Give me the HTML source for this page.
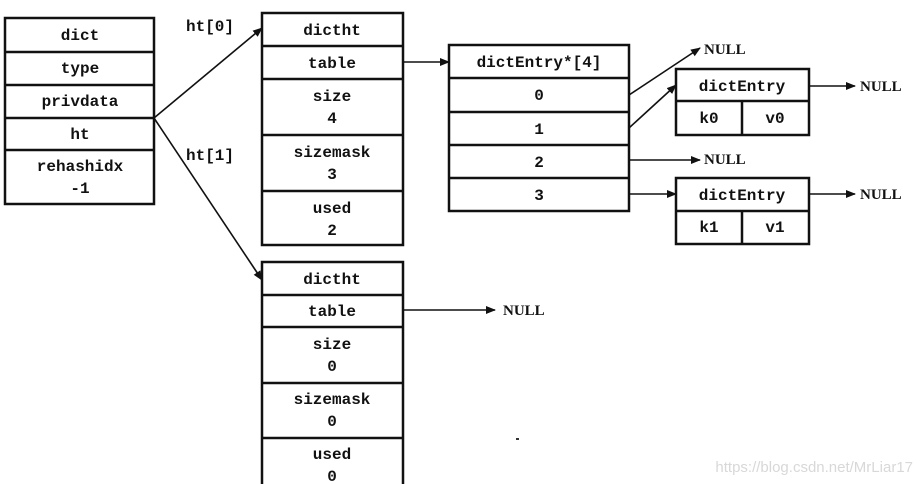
<!DOCTYPE html>
<html><head><meta charset="utf-8"><style>
html,body{margin:0;padding:0;background:#fff;}
svg{display:block;}
text{font-family:"Liberation Mono",monospace;font-size:16px;font-weight:bold;fill:#111;text-anchor:middle;}
.n{font-family:"Liberation Serif",serif;font-size:15px;text-anchor:start;}
.l{text-anchor:start;}
</style></head><body>
<svg width="922" height="484" viewBox="0 0 922 484" xmlns="http://www.w3.org/2000/svg">
<defs><marker id="a" markerWidth="10" markerHeight="8" refX="9" refY="4" orient="auto" markerUnits="userSpaceOnUse"><path d="M0,0 L10,4 L0,8 z" fill="#111"/></marker></defs>
<g fill="none" stroke="#111" stroke-width="2.5">
<rect x="5" y="18" width="149" height="186"/>
<path d="M5 52H154M5 85H154M5 118H154M5 150H154"/>
<rect x="262" y="13" width="141" height="232"/>
<path d="M262 46H403M262 79H403M262 135H403M262 191H403"/>
<path d="M262 490V262H403V490"/>
<path d="M262 295H403M262 327H403M262 383H403M262 438H403"/>
<rect x="449" y="45" width="180" height="166"/>
<path d="M449 78H629M449 112H629M449 145H629M449 178H629"/>
<rect x="676" y="69" width="133" height="66"/>
<path d="M676 101H809M742 101V135"/>
<rect x="676" y="178" width="133" height="66"/>
<path d="M676 211H809M742 211V244"/>
</g>
<g stroke="#111" stroke-width="1.6" fill="none" marker-end="url(#a)">
<line x1="154" y1="118" x2="262" y2="28"/>
<line x1="154" y1="118" x2="262" y2="280"/>
<line x1="403" y1="62" x2="449" y2="62"/>
<line x1="629" y1="95" x2="700" y2="48"/>
<line x1="629" y1="128" x2="676" y2="85"/>
<line x1="629" y1="160" x2="700" y2="160"/>
<line x1="629" y1="194" x2="676" y2="194"/>
<line x1="809" y1="86" x2="855" y2="86"/>
<line x1="809" y1="194" x2="855" y2="194"/>
<line x1="403" y1="310" x2="495" y2="310"/>
</g>
<text x="80" y="40">dict</text>
<text x="80" y="73">type</text>
<text x="80" y="106">privdata</text>
<text x="80" y="139">ht</text>
<text x="80" y="171">rehashidx</text>
<text x="80" y="193">-1</text>
<text class="l" x="186" y="31">ht[0]</text>
<text class="l" x="186" y="160">ht[1]</text>
<text x="332" y="35">dictht</text>
<text x="332" y="68">table</text>
<text x="332" y="101">size</text>
<text x="332" y="123">4</text>
<text x="332" y="157">sizemask</text>
<text x="332" y="179">3</text>
<text x="332" y="213">used</text>
<text x="332" y="235">2</text>
<text x="332" y="284">dictht</text>
<text x="332" y="316">table</text>
<text x="332" y="349">size</text>
<text x="332" y="371">0</text>
<text x="332" y="404">sizemask</text>
<text x="332" y="426">0</text>
<text x="332" y="459">used</text>
<text x="332" y="481">0</text>
<text x="539" y="67">dictEntry*[4]</text>
<text x="539" y="100">0</text>
<text x="539" y="134">1</text>
<text x="539" y="167">2</text>
<text x="539" y="200">3</text>
<text x="742" y="91">dictEntry</text>
<text x="709" y="123">k0</text>
<text x="775" y="123">v0</text>
<text x="742" y="200">dictEntry</text>
<text x="709" y="232">k1</text>
<text x="775" y="232">v1</text>
<text class="n" x="704" y="54">NULL</text>
<text class="n" x="704" y="164">NULL</text>
<text class="n" x="860" y="91">NULL</text>
<text class="n" x="860" y="199">NULL</text>
<text class="n" x="503" y="315">NULL</text>
<rect x="516" y="438" width="3" height="2" fill="#333"/>
<text x="913" y="472" style="font-family:'Liberation Sans',sans-serif;font-weight:normal;font-size:15px;fill:#d8d8d8;text-anchor:end">https://blog.csdn.net/MrLiar17</text>
</svg>
</body></html>
